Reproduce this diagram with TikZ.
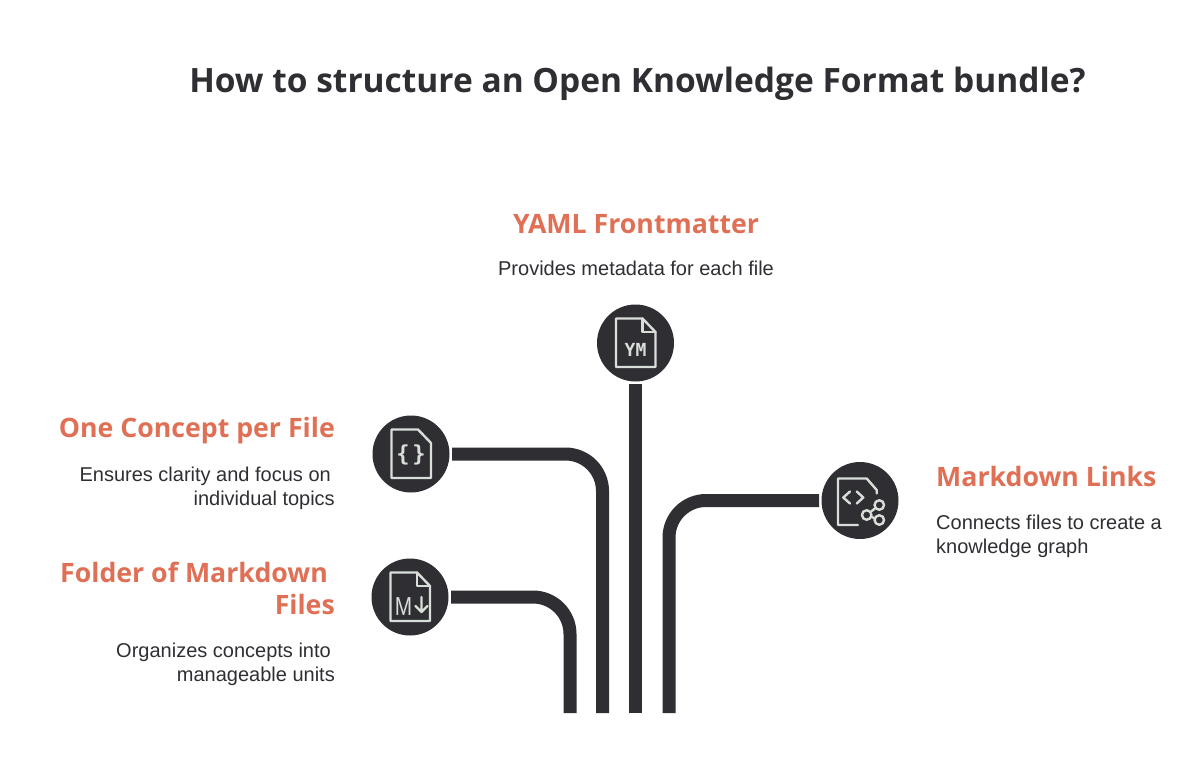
\documentclass[tikz,border=0pt]{standalone}
\usepackage{fontspec}
\setmainfont{Liberation Sans}
\newfontfamily\titlefont{Open Sans}
\newfontfamily\iconmono{DejaVu Sans Mono}
\definecolor{dunkel}{HTML}{2E2E33}
\definecolor{koralle}{HTML}{E07055}
\definecolor{hell}{HTML}{D8DED8}
\tikzset{
	kreis/.style={circle,fill=dunkel,minimum size=77,inner sep=0,outer sep=2.5},
	strang/.style={draw=dunkel,line width=13,rounded corners=37},
	kopf/.style={text=koralle,font=\titlefont\bfseries\fontsize{26.7}{32}\selectfont,inner sep=0},
	info/.style={text=dunkel,font=\fontsize{20}{24}\selectfont,inner sep=0},
	zeichen/.style={draw=hell,line width=2.4,line join=round,line cap=round},
	glyph/.style={text=hell,inner sep=0},
	ring/.style={zeichen,circle,minimum size=9.5,inner sep=0},
}
\def\datei#1#2{
	\draw[zeichen] ($(#1)+(-19.5,-24.5)$) -- ($(#1)+(7,-24.5)$) -- ($(#1)+(20,-11)$) -- ($(#1)+(20,24)$) -- ($(#1)+(-19.5,24)$) -- cycle;
	#2
}
\def\knick#1{
	\draw[zeichen] ($(#1)+(7,-24.5)$) -- ($(#1)+(7,-11)$) -- ($(#1)+(20,-11)$);
}
\usetikzlibrary{calc}
\begin{document}
\begin{tikzpicture}[x=1pt,y=-1pt]
\useasboundingbox (0,0) rectangle (1200,777);
\def\unten{713}
\coordinate (u1) at (570,\unten);
\coordinate (u2) at (602.5,\unten);
\coordinate (u3) at (635.5,\unten);
\coordinate (u4) at (669,\unten);
\node[text=dunkel,font=\titlefont\bfseries\fontsize{33.5}{38}\selectfont,inner sep=0] (titel) at (637.5,84) {How to structure an Open Knowledge Format bundle?};
\node[kreis] (yaml) at (635.5,343) {};
\node[kreis] (konzept) at (411,454) {};
\node[kreis] (ordner) at (410,597) {};
\node[kreis] (links) at (860,500.5) {};
\node[kopf] (yamlkopf) at (636,224) {YAML Frontmatter};
\node[info] (yamltext) at (636,268.5) {Provides metadata for each file};
\node[kopf,anchor=east] (konzeptkopf) at (335,431) {One Concept per File};
\node[info,anchor=east,align=right] (konzepttext) at (335,488) {Ensures clarity and focus on\hspace*{4pt}\\individual topics};
\node[kopf,anchor=east,align=right] (ordnerkopf) at (335,588) {Folder of Markdown\hspace*{7pt}\\Files};
\node[info,anchor=east,align=right] (ordnertext) at (335,664) {Organizes concepts into\hspace*{4pt}\\manageable units};
\node[kopf,anchor=west] (linkskopf) at (936,476) {Markdown Links};
\node[info,anchor=west,align=left] (linkstext) at (936,536) {Connects files to create a\\knowledge graph};
\draw[strang] (yaml.south) -- (u3);
\draw[strang] (konzept.east) -| (u2);
\draw[strang] (ordner.east) -| (u1);
\draw[strang] (links.west) -| (u4);
\datei{yaml}{\knick{yaml}}
\node[glyph,font=\iconmono\bfseries\fontsize{18}{18}\selectfont] (ym) at ($(yaml)+(0,7)$) {YM};
\datei{konzept}{}
\node[glyph,font=\iconmono\bfseries\fontsize{22}{22}\selectfont] (klammer) at ($(konzept)+(0,1)$) {\{\hspace{3pt}\}};
\datei{ordner}{\knick{ordner}}
\node[glyph,font=\fontsize{26}{26}\selectfont,xscale=.8] (em) at ($(ordner)+(-6.5,9.5)$) {M};
\coordinate (pfeilo) at ($(ordner)+(11.5,0)$);
\coordinate (pfeilu) at ($(ordner)+(11.5,15)$);
\draw[zeichen] (pfeilo) -- (pfeilu) -- ++(-6,-6) (pfeilu) -- ++(6,-6);
\draw[zeichen] ($(links)+(-2,24.5)$) -- ($(links)+(-22,24.5)$) -- ($(links)+(-22,-22)$) -- ($(links)+(6.7,-22)$) -- ($(links)+(16.7,-10.5)$) -- ($(links)+(16.7,-7)$);
\draw[zeichen] ($(links)+(-10,-9)$) -- ($(links)+(-16.7,-3)$) -- ($(links)+(-10,3)$);
\draw[zeichen] ($(links)+(-3.3,-9)$) -- ($(links)+(3.3,-3)$) -- ($(links)+(-3.3,3)$);
\node[ring] (k1) at ($(links)+(6.7,14.5)$) {};
\node[ring] (k2) at ($(links)+(19.3,4.5)$) {};
\node[ring] (k3) at ($(links)+(19.3,19.5)$) {};
\draw[zeichen] (k1) -- (k2);
\draw[zeichen] (k1) -- (k3);
\end{tikzpicture}
\end{document}
